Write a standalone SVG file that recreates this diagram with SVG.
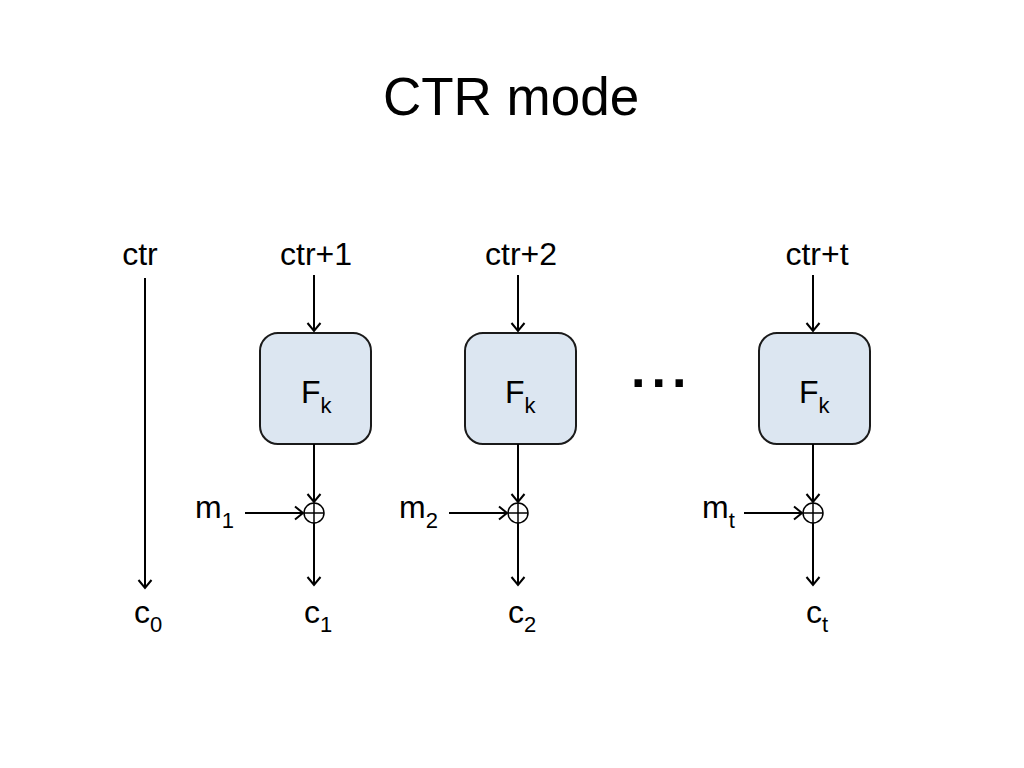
<svg xmlns="http://www.w3.org/2000/svg" width="1024" height="768" viewBox="0 0 1024 768">
<defs>
<style>
text{font-family:"Liberation Sans",Arial,sans-serif;fill:#000}
.title{font-size:53px}
.lbl{font-size:32px}
.sub{font-size:22px}
.box{fill:#dce6f1;stroke:#1a1a1a;stroke-width:2}
.arr{stroke:#000;stroke-width:2;fill:none;marker-end:url(#ah)}
.xor{fill:#fff;stroke:#000;stroke-width:1.5}
.xp{stroke:#000;stroke-width:1.5}
</style>
<marker id="ah" markerUnits="userSpaceOnUse" markerWidth="16" markerHeight="16" refX="10" refY="8" orient="auto">
<path d="M2,1.5 L10,8 L2,14.5" fill="none" stroke="#000" stroke-width="2"/>
</marker>
</defs>
<rect width="1024" height="768" fill="#fff"/>
<text class="title" x="511" y="115" text-anchor="middle">CTR mode</text>

<g id="ctr0"><text class="lbl" x="140" y="265" text-anchor="middle">ctr</text></g>
<g id="ctr1"><text class="lbl" x="316" y="265" text-anchor="middle">ctr+1</text></g>
<g id="ctr2"><text class="lbl" x="521" y="265" text-anchor="middle">ctr+2</text></g>
<g id="ctrt"><text class="lbl" x="817" y="265" text-anchor="middle">ctr+t</text></g>

<g id="F1"><rect class="box" x="260" y="333" width="111" height="111" rx="18"/>
<text class="lbl" x="301" y="403">F<tspan class="sub" dy="10">k</tspan></text></g>
<g id="F2"><rect class="box" x="465" y="333" width="111" height="111" rx="18"/>
<text class="lbl" x="505" y="403">F<tspan class="sub" dy="10">k</tspan></text></g>
<g id="Ft"><rect class="box" x="759" y="333" width="111" height="111" rx="18"/>
<text class="lbl" x="799" y="403">F<tspan class="sub" dy="10">k</tspan></text></g>

<g id="dots"><text x="631" y="387" style="font-size:52px;font-weight:bold;letter-spacing:6px">...</text></g>

<g id="X1"><circle class="xor" cx="314" cy="513" r="10"/><path class="xp" d="M304,513 H324 M314,503 V523"/></g>
<g id="X2"><circle class="xor" cx="518" cy="513" r="10"/><path class="xp" d="M508,513 H528 M518,503 V523"/></g>
<g id="Xt"><circle class="xor" cx="813" cy="513" r="10"/><path class="xp" d="M803,513 H823 M813,503 V523"/></g>

<g id="m1"><text class="lbl" x="195" y="518">m<tspan class="sub" dy="10">1</tspan></text></g>
<g id="m2"><text class="lbl" x="399" y="518">m<tspan class="sub" dy="10">2</tspan></text></g>
<g id="mt"><text class="lbl" x="702" y="518">m<tspan class="sub" dy="10">t</tspan></text></g>

<g id="c0"><text class="lbl" x="134" y="623">c<tspan class="sub" dy="9">0</tspan></text></g>
<g id="c1"><text class="lbl" x="304" y="623">c<tspan class="sub" dy="9">1</tspan></text></g>
<g id="c2"><text class="lbl" x="508" y="623">c<tspan class="sub" dy="9">2</tspan></text></g>
<g id="ct"><text class="lbl" x="806" y="623">c<tspan class="sub" dy="9">t</tspan></text></g>

<g id="connectors">
<line class="arr" x1="145" y1="278" x2="145" y2="588"/>
<line class="arr" x1="314" y1="275" x2="314" y2="331"/>
<line class="arr" x1="518" y1="275" x2="518" y2="331"/>
<line class="arr" x1="813" y1="275" x2="813" y2="331"/>
<line class="arr" x1="314" y1="444" x2="314" y2="502"/>
<line class="arr" x1="518" y1="444" x2="518" y2="502"/>
<line class="arr" x1="813" y1="444" x2="813" y2="502"/>
<line class="arr" x1="314" y1="523" x2="314" y2="585"/>
<line class="arr" x1="518" y1="523" x2="518" y2="585"/>
<line class="arr" x1="813" y1="523" x2="813" y2="585"/>
<line class="arr" x1="245" y1="513" x2="303" y2="513"/>
<line class="arr" x1="449" y1="513" x2="507" y2="513"/>
<line class="arr" x1="744" y1="513" x2="802" y2="513"/>
</g>
</svg>
